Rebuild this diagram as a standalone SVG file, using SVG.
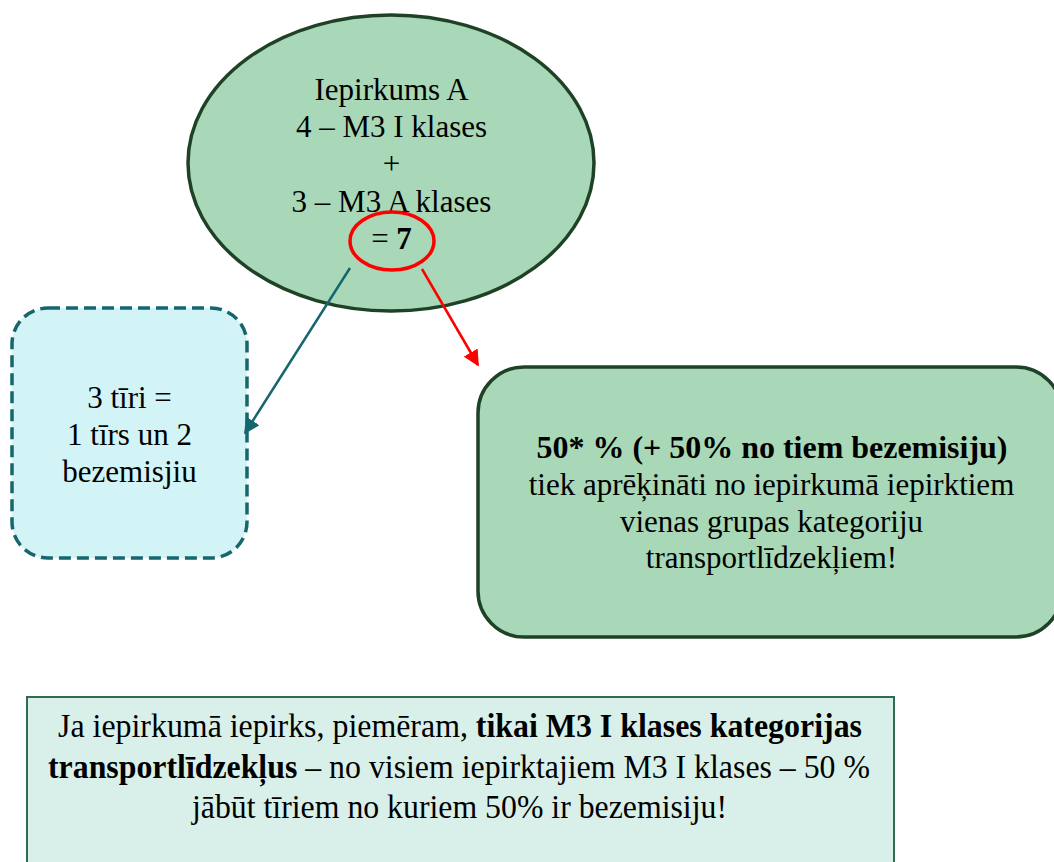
<svg xmlns="http://www.w3.org/2000/svg" width="1054" height="862" viewBox="0 0 1054 862">
  <style>
    .t { font-family: "Liberation Serif", "Times New Roman", serif; font-size: 31px; fill: #000; text-anchor: middle; }
    .b { font-weight: bold; }
    .green { fill: #a8d8b7; stroke: #1f4227; stroke-width: 3.5; }
    .cyan { fill: #d3f4f7; stroke: #16666e; stroke-width: 3.5; stroke-dasharray: 12 6; }
    .note { fill: #d9f0ea; stroke: #2e6b4f; stroke-width: 2; }
  </style>
  <defs>
    <marker id="aTeal" viewBox="0 0 10 10" refX="9" refY="5" markerWidth="16" markerHeight="16" markerUnits="userSpaceOnUse" orient="auto">
      <path d="M0,0 L10,5 L0,10 z" fill="#16666e"/>
    </marker>
    <marker id="aRed" viewBox="0 0 10 10" refX="9" refY="5" markerWidth="16" markerHeight="16" markerUnits="userSpaceOnUse" orient="auto">
      <path d="M0,0 L10,5 L0,10 z" fill="#ff0000"/>
    </marker>
  </defs>

  <g id="node-iepirkums">
    <ellipse class="green" cx="391" cy="163" rx="203" ry="148"/>
    <text class="t" x="391.5" y="100">Iepirkums A</text>
    <text class="t" x="391.5" y="137">4 – M3 I klases</text>
    <text class="t" x="391.5" y="174">+</text>
    <text class="t" x="391.5" y="212">3 – M3 A klases</text>
    <text class="t" x="391.5" y="249">= <tspan class="b">7</tspan></text>
    <ellipse cx="392" cy="241" rx="42" ry="29" fill="none" stroke="#ff0000" stroke-width="3.5"/>
  </g>

  <g id="node-tiri">
    <rect class="cyan" x="12" y="308" width="235" height="250" rx="36" ry="36"/>
    <text class="t" x="129.5" y="408">3 tīri =</text>
    <text class="t" x="129.5" y="445">1 tīrs un 2</text>
    <text class="t" x="129.5" y="482">bezemisjiu</text>
  </g>

  <g id="node-50">
    <rect class="green" x="478" y="367" width="584" height="270" rx="46" ry="46"/>
    <text class="t b" x="772" y="458" textLength="471" lengthAdjust="spacingAndGlyphs">50* % (+ 50% no tiem bezemisiju)</text>
    <text class="t" x="771.5" y="495">tiek aprēķināti no iepirkumā iepirktiem</text>
    <text class="t" x="771.5" y="532">vienas grupas kategoriju</text>
    <text class="t" x="771.5" y="568">transportlīdzekļiem!</text>
  </g>

  <g id="node-note">
    <rect class="note" x="27" y="697" width="867" height="180"/>
    <text class="t" style="font-size:33px" x="460" y="737" textLength="804" lengthAdjust="spacingAndGlyphs">Ja iepirkumā iepirks, piemēram, <tspan class="b">tikai M3 I klases kategorijas</tspan></text>
    <text class="t" style="font-size:33px" x="459" y="778" textLength="822" lengthAdjust="spacingAndGlyphs"><tspan class="b">transportlīdzekļus</tspan> – no visiem iepirktajiem M3 I klases – 50 %</text>
    <text class="t" style="font-size:33px" x="459.5" y="818" textLength="535" lengthAdjust="spacingAndGlyphs">jābūt tīriem no kuriem 50% ir bezemisiju!</text>
  </g>

  <g id="connectors">
    <line x1="350" y1="268" x2="245" y2="433" stroke="#16666e" stroke-width="2.5" marker-end="url(#aTeal)"/>
    <line x1="422" y1="269" x2="478" y2="365" stroke="#ff0000" stroke-width="2.5" marker-end="url(#aRed)"/>
  </g>
</svg>
